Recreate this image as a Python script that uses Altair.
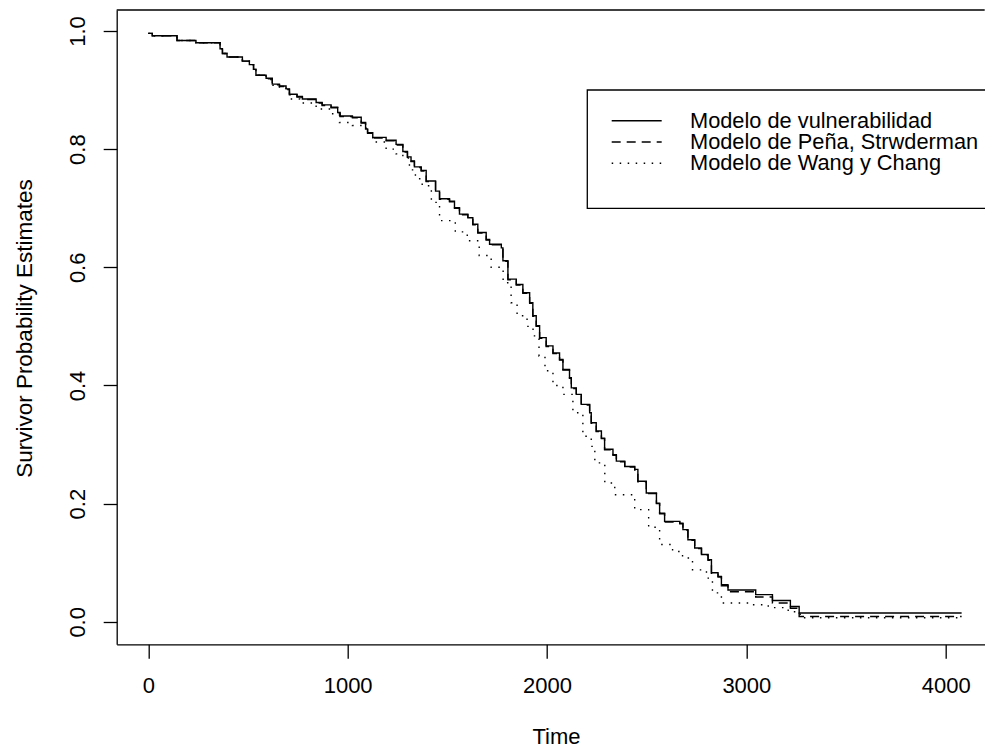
import altair as alt
import pandas as pd

# ---------------- data ----------------
time_vuln = [0, 20, 144, 239, 360, 372, 395, 472, 507, 528, 540, 591, 622, 658, 691, 708,
             746, 773, 842, 872, 917, 950, 962, 1024, 1068, 1090, 1100, 1126, 1193, 1243,
             1277, 1300, 1318, 1335, 1369, 1394, 1441, 1461, 1511, 1536, 1561, 1603, 1628,
             1653, 1695, 1712, 1771, 1779, 1804, 1846, 1879, 1913, 1929, 1946, 1963, 1996,
             2030, 2063, 2080, 2113, 2122, 2147, 2172, 2214, 2222, 2247, 2273, 2289, 2331,
             2348, 2390, 2440, 2456, 2498, 2549, 2565, 2590, 2666, 2682, 2707, 2741, 2775,
             2808, 2825, 2858, 2875, 2908, 3047, 3131, 3221, 3265, 4080]
surv_vuln = [0.996, 0.992, 0.984, 0.980, 0.970, 0.962, 0.956, 0.949, 0.943, 0.935, 0.925,
             0.920, 0.910, 0.907, 0.902, 0.893, 0.889, 0.885, 0.879, 0.875, 0.871, 0.862,
             0.856, 0.854, 0.845, 0.834, 0.828, 0.820, 0.815, 0.808, 0.796, 0.787, 0.780,
             0.770, 0.764, 0.746, 0.729, 0.716, 0.712, 0.701, 0.690, 0.684, 0.673, 0.659,
             0.647, 0.639, 0.633, 0.611, 0.580, 0.571, 0.557, 0.540, 0.518, 0.501, 0.481,
             0.467, 0.455, 0.444, 0.427, 0.413, 0.396, 0.385, 0.368, 0.354, 0.337, 0.323,
             0.311, 0.292, 0.283, 0.272, 0.263, 0.258, 0.238, 0.218, 0.201, 0.184, 0.170,
             0.167, 0.156, 0.139, 0.125, 0.114, 0.105, 0.083, 0.077, 0.063, 0.054, 0.046,
             0.036, 0.026, 0.015, 0.015]

time_pena = time_vuln
surv_pena = [0.996, 0.992, 0.984, 0.980, 0.970, 0.962, 0.956, 0.949, 0.943, 0.935, 0.925,
             0.919, 0.909, 0.906, 0.901, 0.892, 0.888, 0.884, 0.878, 0.874, 0.870, 0.861,
             0.855, 0.853, 0.844, 0.833, 0.827, 0.819, 0.814, 0.807, 0.795, 0.786, 0.779,
             0.769, 0.763, 0.745, 0.728, 0.715, 0.711, 0.700, 0.689, 0.683, 0.672, 0.658,
             0.646, 0.638, 0.632, 0.610, 0.579, 0.570, 0.556, 0.539, 0.517, 0.500, 0.480,
             0.466, 0.454, 0.443, 0.426, 0.412, 0.395, 0.384, 0.367, 0.353, 0.336, 0.322,
             0.310, 0.291, 0.282, 0.271, 0.262, 0.257, 0.237, 0.217, 0.200, 0.183, 0.169,
             0.166, 0.155, 0.138, 0.124, 0.113, 0.104, 0.082, 0.076, 0.061, 0.051, 0.042,
             0.032, 0.023, 0.009, 0.009]

time_wang = [0, 20, 144, 239, 360, 372, 395, 472, 507, 528, 540, 591, 622, 658, 691, 708,
             760, 842, 917, 959, 1024, 1093, 1126, 1193, 1243, 1277, 1310, 1340, 1374, 1420,
             1461, 1540, 1600, 1660, 1720, 1780, 1820, 1850, 1900, 1930, 1960, 1990, 2030,
             2080, 2130, 2180, 2222, 2240, 2290, 2340, 2440, 2510, 2565, 2630, 2680, 2730,
             2800, 2830, 2875, 3010, 3110, 3210, 3270, 4080]
surv_wang = [0.996, 0.992, 0.984, 0.980, 0.970, 0.962, 0.956, 0.949, 0.943, 0.935, 0.925,
             0.918, 0.908, 0.903, 0.896, 0.885, 0.878, 0.868, 0.860, 0.845, 0.840, 0.828,
             0.812, 0.800, 0.792, 0.785, 0.765, 0.750, 0.738, 0.710, 0.679, 0.660, 0.645,
             0.620, 0.600, 0.574, 0.540, 0.518, 0.500, 0.484, 0.450, 0.425, 0.400, 0.385,
             0.354, 0.314, 0.297, 0.269, 0.235, 0.215, 0.190, 0.160, 0.131, 0.119, 0.108,
             0.088, 0.074, 0.049, 0.032, 0.029, 0.024, 0.017, 0.007, 0.007]

legend_labels = ["Modelo de vulnerabilidad", "Modelo de Peña, Strwderman", "Modelo de Wang y Chang"]
x_ticks = [0, 1000, 2000, 3000, 4000]
y_ticks = [0.0, 0.2, 0.4, 0.6, 0.8, 1.0]

# ---------------- layout ----------------
W = 868
H = 634.3
FONT = "Liberation Sans"
FS = 22
LW = 1.4

x_scale = alt.Scale(domain=[-158.5, 4195.7], nice=False, zero=False)
y_scale = alt.Scale(domain=[-0.038, 1.0355], nice=False, zero=False)

x_axis = alt.Axis(values=x_ticks, format="d", title="Time", grid=False,
                  tickSize=14, tickWidth=1.3, tickColor="black",
                  domainColor="black", domainWidth=1.3,
                  labelFont=FONT, labelFontSize=FS, labelColor="black",
                  labelBaseline="alphabetic", labelPadding=34.7,
                  labelFlush=False, labelOverlap=False,
                  titleFont=FONT, titleFontSize=FS, titleFontWeight="normal",
                  titleColor="black", titleX=439.3, titleY=99,
                  titleAlign="center", titleBaseline="alphabetic")
y_axis = alt.Axis(values=y_ticks, format=".1f", title="Survivor Probability Estimates",
                  grid=False, tickSize=13.5, tickWidth=1.3, tickColor="black",
                  domainColor="black", domainWidth=1.3,
                  labelFont=FONT, labelFontSize=FS, labelColor="black",
                  labelAngle=270, labelAlign="center", labelBaseline="alphabetic",
                  labelPadding=18.5, labelFlush=False, labelOverlap=False,
                  titleFont=FONT, titleFontSize=22.5, titleFontWeight="normal",
                  titleColor="black", titleAngle=270, titleX=-85, titleY=318,
                  titleAlign="center", titleBaseline="alphabetic")


def curve(times, survs, dash=None):
    df = pd.DataFrame({"t": times, "s": survs})
    kw = dict(interpolate="step-after", color="black", strokeWidth=LW, clip=True)
    if dash is not None:
        kw["strokeDash"] = dash
    return alt.Chart(df).mark_line(**kw).encode(
        x=alt.X("t:Q", scale=x_scale, axis=x_axis),
        y=alt.Y("s:Q", scale=y_scale, axis=y_axis),
    )


wang = curve(time_wang, surv_wang, dash=[1.5, 6.5])
pena = curve(time_pena, surv_pena, dash=[9, 6])
vuln = curve(time_vuln, surv_vuln)

top_line = alt.Chart(pd.DataFrame({"a": [0]})).mark_rule(
    color="black", strokeWidth=1.3).encode(
    x=alt.value(0), x2=alt.value(W), y=alt.value(0))

# legend
leg_box = alt.Chart(pd.DataFrame({"a": [0]})).mark_rect(
    fill="white", stroke="black", strokeWidth=1.3).encode(
    x=alt.value(470.6), x2=alt.value(885), y=alt.value(80), y2=alt.value(198.3))

row_y = [110.7, 132.0, 153.3]
dashes = [None, [9, 6], [1.5, 6.5]]
leg_layers = [leg_box]
for lab, ry, d in zip(legend_labels, row_y, dashes):
    kw = dict(color="black", strokeWidth=LW)
    if d is not None:
        kw["strokeDash"] = d
    leg_layers.append(alt.Chart(pd.DataFrame({"a": [0]})).mark_rule(**kw).encode(
        x=alt.value(495), x2=alt.value(545), y=alt.value(ry)))
    leg_layers.append(alt.Chart(pd.DataFrame({"label": [lab]})).mark_text(
        align="left", baseline="middle", font=FONT, fontSize=21.8, color="black").encode(
        x=alt.value(573.3), y=alt.value(ry), text="label:N"))

chart = alt.layer(wang, pena, vuln, top_line, *leg_layers).properties(
    width=W, height=H,
    padding={"left": 108.7, "top": 2, "right": 0, "bottom": 103.5},
    autosize=alt.AutoSizeParams(type="none"),
    background="white",
).configure_view(strokeWidth=0)

chart.save("out.html", embed_options={"renderer": "svg", "actions": False})
